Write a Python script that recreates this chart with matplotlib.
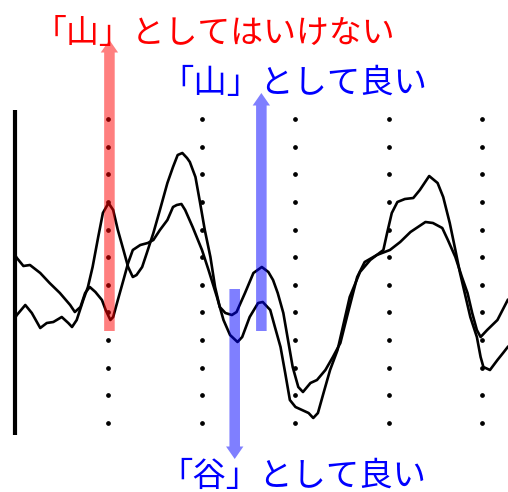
import matplotlib
matplotlib.use("Agg")
import matplotlib.pyplot as plt
import numpy as np

plt.rcParams['font.family'] = ['Noto Sans CJK JP', 'DejaVu Sans']

# Waveform 1 (sharp early peak)
time_a = [0, 2, 11, 18, 27, 34, 41, 50, 57, 61, 66, 73, 78, 83, 89, 94, 100, 105, 110, 116,
          121, 126, 130, 136, 141, 148, 155, 163, 169, 174, 179, 184, 187, 193, 198, 203, 209, 214, 219, 225,
          232, 237, 246, 255, 264, 271, 276, 281, 287, 292, 297, 303, 308, 316, 323, 332, 340, 348, 355, 366,
          374, 387, 401, 412, 423, 431, 439, 447, 457, 463, 471, 478, 484, 489, 494, 498, 505, 516, 527]
amp_a = [-4.6, -4.3, -3.3, -4.1, -5.6, -5.1, -5.0, -4.5, -5.1, -5.5,
         -4.8, -2.8, -1.5, 0.5, 3.5, 5.9, 6.9, 6.2, 4.2, 2.2,
         0.5, -0.5, -0.3, 0.5, 1.9, 3.9, 6.2, 8.9, 10.5, 11.7,
         11.9, 11.4, 11.0, 9.5, 6.9, 4.2, 1.5, -1.5, -3.5, -4.1,
         -4.3, -4.0, -2.1, -0.1, 0.5, 0.0, -0.8, -2.1, -4.1, -6.8,
         -9.5, -11.5, -12.0, -11.1, -10.8, -9.8, -8.5, -7.1, -4.5, -0.5,
         1.0, 1.7, 2.2, 3.0, 4.0, 4.5, 5.0, 4.9, 4.4, 3.2,
         1.5, -0.5, -2.1, -4.1, -5.8, -6.5, -5.8, -4.8, -2.8]

# Waveform 2 (early dip)
time_b = [0, 2, 9, 16, 27, 37, 48, 59, 64, 70, 75, 80, 86, 93, 97, 102, 105, 110, 116, 121,
          126, 134, 142, 148, 155, 163, 169, 173, 178, 182, 190, 200, 207, 216, 223, 230, 238, 243, 251, 260,
          265, 273, 278, 284, 289, 294, 300, 307, 314, 319, 324, 330, 337, 345, 358, 369, 380, 394, 398, 403,
          409, 417, 426, 433, 443, 452, 458, 465, 471, 476, 482, 487, 494, 498, 501, 508, 516, 522, 527]
amp_b = [1.7, 1.4, 0.6, 0.7, -0.1, -1.1, -2.1, -3.3, -4.0, -3.5,
         -2.1, -1.5, -2.0, -2.8, -3.8, -4.8, -4.5, -2.8, -0.8, 0.9,
         2.2, 2.7, 2.9, 3.2, 4.2, 5.2, 6.5, 6.7, 6.8, 6.2,
         4.5, 2.2, 0.2, -2.5, -4.8, -6.3, -7.0, -6.5, -4.5, -3.1,
         -3.0, -3.8, -5.5, -7.5, -10.1, -12.8, -13.5, -13.8, -14.1, -14.6,
         -14.1, -12.1, -9.8, -7.8, -2.5, 0.0, 1.2, 2.2, 3.9, 5.9,
         7.0, 7.3, 7.4, 8.2, 9.6, 8.9, 7.5, 4.9, 2.2, -0.1,
         -2.5, -4.5, -6.5, -8.5, -9.5, -9.8, -8.8, -8.1, -7.5]

# Dotted time markers (ms) and their dot levels
marker_times = [100, 200, 300, 400, 500]
dot_levels = list(np.linspace(15.3, -15.1, 12))

# Amplitude scale bar at stimulus onset
scale_bar = (16.2, -16.3)

# Annotated arrows: (time, start amplitude, tip amplitude, colour, label)
arrow_bad_peak = (101, -5.9, 23.2, '#ff0000', '「山」としてはいけない')
arrow_good_peak = (263.5, -5.9, 17.9, '#0000ff', '「山」として良い')
arrow_good_trough = (235, -1.7, -18.7, '#0000ff', '「谷」として良い')

fig = plt.figure(figsize=(5.08, 4.92), dpi=100)
ax = fig.add_axes([0, 0, 1, 1])
ax.set_xlim(-16.04, 527.3)
ax.set_ylim(-22.0, 27.2)
ax.axis('off')

for t in marker_times:
    ax.plot([t] * len(dot_levels), dot_levels, linestyle='none', marker='o',
            markersize=2.4, color='black', zorder=1)

ax.plot([0, 0], scale_bar, color='black', linewidth=3.0, solid_capstyle='butt', zorder=2)

ax.plot(time_a, amp_a, color='black', linewidth=1.9, zorder=3)
ax.plot(time_b, amp_b, color='black', linewidth=1.9, zorder=3)

for t, a0, a1, col, _ in (arrow_bad_peak, arrow_good_peak, arrow_good_trough):
    ax.annotate('', xy=(t, a1), xytext=(t, a0),
                arrowprops=dict(arrowstyle='simple,head_width=12.5,head_length=9,tail_width=7.6',
                                mutation_scale=1, shrinkA=0, shrinkB=0,
                                facecolor=col, edgecolor='none', alpha=0.5),
                zorder=4)

fig.text(34 / 508, 1 - 34 / 492, arrow_bad_peak[4], color=arrow_bad_peak[3],
         fontsize=23.7, ha='left', va='center')
fig.text(160 / 508, 1 - 84 / 492, arrow_good_peak[4], color=arrow_good_peak[3],
         fontsize=24, ha='left', va='center')
fig.text(159 / 508, 1 - 476 / 492, arrow_good_trough[4], color=arrow_good_trough[3],
         fontsize=24, ha='left', va='center')

fig.savefig('out.png', dpi=100)
